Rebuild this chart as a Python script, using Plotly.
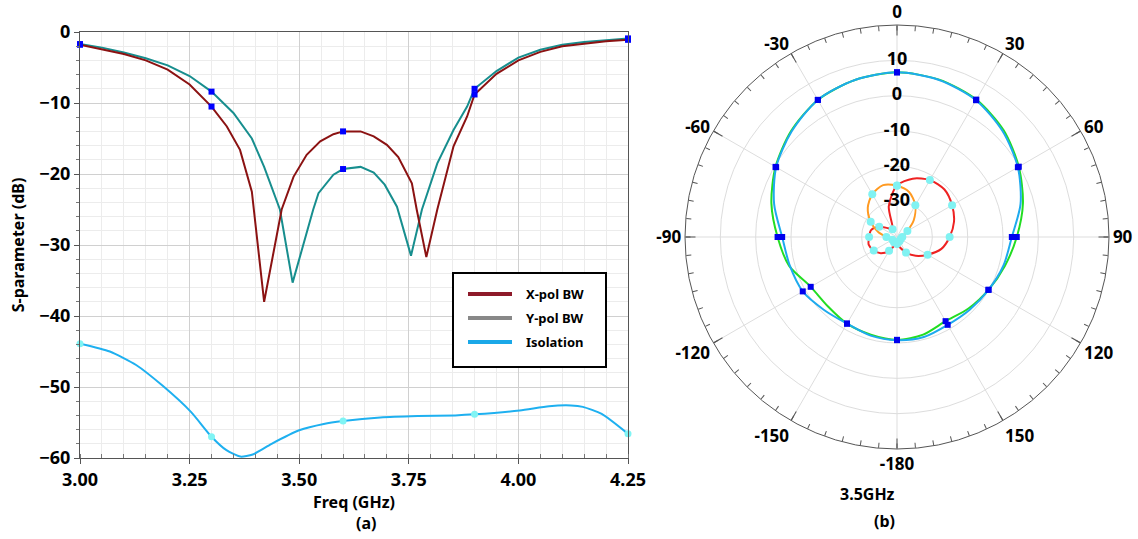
import plotly.graph_objects as go

FONT = "Noto Sans"

# ---------------- (a) S-parameters ----------------
freq_xpol = [3.00, 3.05, 3.10, 3.15, 3.20, 3.25, 3.30, 3.335, 3.365, 3.392, 3.42, 3.46, 3.487,
             3.517, 3.548, 3.578, 3.60, 3.64, 3.67, 3.70, 3.726, 3.757, 3.768, 3.79, 3.815,
             3.852, 3.883, 3.90, 3.95, 4.00, 4.05, 4.10, 4.15, 4.20, 4.25]
s_xpol = [-1.8, -2.4, -3.1, -4.0, -5.3, -7.4, -10.5, -13.3, -16.6, -22.5, -38.0, -25.0, -20.4,
          -17.3, -15.4, -14.4, -14.0, -14.0, -14.7, -15.9, -17.6, -21.3, -25.0, -31.7, -25.0,
          -16.1, -11.9, -8.8, -5.9, -4.0, -2.8, -2.0, -1.6, -1.3, -1.1]

freq_ypol = [3.00, 3.05, 3.10, 3.15, 3.20, 3.25, 3.30, 3.35, 3.392, 3.42, 3.456, 3.485, 3.532,
             3.544, 3.578, 3.60, 3.64, 3.67, 3.695, 3.723, 3.755, 3.78, 3.815, 3.852, 3.883,
             3.90, 3.95, 4.00, 4.05, 4.10, 4.15, 4.20, 4.25]
s_ypol = [-1.7, -2.2, -2.9, -3.7, -4.7, -6.2, -8.4, -11.4, -15.0, -19.0, -25.0, -35.3, -25.0,
          -22.7, -20.1, -19.3, -19.0, -19.8, -21.5, -24.6, -31.5, -25.0, -18.5, -13.8, -10.5,
          -8.0, -5.5, -3.6, -2.5, -1.8, -1.4, -1.1, -0.9]

freq_iso = [3.00, 3.068, 3.128, 3.188, 3.253, 3.30, 3.334, 3.366, 3.394, 3.437, 3.50, 3.556,
            3.60, 3.685, 3.77, 3.856, 3.90, 4.003, 4.07, 4.12, 4.147, 4.19, 4.25]
s_iso = [-43.9, -45.0, -46.9, -49.8, -53.5, -57.0, -58.9, -59.8, -59.5, -58.0, -56.1, -55.2,
         -54.8, -54.3, -54.1, -54.0, -53.85, -53.3, -52.7, -52.6, -52.8, -53.8, -56.6]

marker_freqs = [3.00, 3.30, 3.60, 3.90, 4.25]
x_ticks = [3.00, 3.25, 3.50, 3.75, 4.00, 4.25]
y_ticks = [0, -10, -20, -30, -40, -50, -60]

legend_names = ["X-pol BW", "Y-pol BW", "Isolation"]
legend_colors = ["#8E1A2A", "#888888", "#1AA8E8"]

# ---------------- (b) radiation pattern at 3.5 GHz ----------------
theta_deg = [-180, -165, -150, -135, -120, -105, -90, -75, -60, -45, -30, -15, 0,
             15, 30, 45, 60, 75, 90, 105, 120, 135, 150, 165, 180]
gain_blue = [-10.8, -11.1, -11.7, -10.8, -9.2, -8.6, -7.5, -4.0, -0.5, 2.2, 4.8, 6.0, 6.6,
             6.0, 4.7, 2.3, -0.5, -3.8, -7.5, -8.8, -10.1, -10.9, -11.3, -10.7, -10.8]
gain_green = [-10.9, -11.4, -11.7, -12.3, -11.8, -8.4, -6.2, -3.2, -0.3, 2.4, 4.8, 6.0, 6.6,
              6.1, 4.9, 2.7, -0.2, -3.1, -6.1, -8.4, -10.1, -11.4, -12.5, -11.4, -10.9]
xpol_red = [-38.0, -37.5, -35.5, -33.5, -32.4, -31.7, -32.1, -32.4, -34.2, -36.5, -37.5, -31.0, -25.4,
            -22.9, -21.4, -21.0, -22.0, -23.3, -25.1, -27.0, -30.0, -32.5, -34.9, -37.0, -38.0]
xpol_orange = [-38.5, -38.5, -38.3, -38.5, -38.5, -38.0, -37.0, -34.5, -31.4, -28.3, -26.0, -24.8, -25.5,
               -26.8, -29.6, -33.3, -36.6, -38.0, -38.5, -38.8, -38.8, -38.8, -38.6, -38.5, -38.5]
marker_theta = [-150, -120, -90, -60, -30, 0, 30, 60, 90, 120, 150, 180]

angular_tickvals = [0, 30, 60, 90, 120, 150, 180, 210, 240, 270, 300, 330]
angular_ticktext = ["0", "30", "60", "90", "120", "150", "-180", "-150", "-120", "-90", "-60", "-30"]
angular_minor = list(range(0, 360, 5))
radial_tickvals = [-30, -20, -10, 0, 10]
radial_range = [-40, 20]


def pick(xs, ys, keys):
    return [ys[xs.index(k)] for k in keys]


fig = go.Figure()

# S-parameter curves
fig.add_trace(go.Scatter(x=freq_iso, y=s_iso, mode="lines",
                         line=dict(color="#1EB0F0", width=2, shape="spline", smoothing=0.6), showlegend=False))
fig.add_trace(go.Scatter(x=freq_ypol, y=s_ypol, mode="lines", line=dict(color="#178E8E", width=2),
                         showlegend=False))
fig.add_trace(go.Scatter(x=freq_xpol, y=s_xpol, mode="lines", line=dict(color="#8B1212", width=2),
                         showlegend=False))
fig.add_trace(go.Scatter(x=marker_freqs, y=pick(freq_iso, s_iso, marker_freqs), mode="markers",
                         marker=dict(color="#80F4F4", size=7, symbol="circle"), cliponaxis=False, showlegend=False))
fig.add_trace(go.Scatter(x=marker_freqs, y=pick(freq_ypol, s_ypol, marker_freqs), mode="markers",
                         marker=dict(color="#0000FF", size=6, symbol="square"), cliponaxis=False, showlegend=False))
fig.add_trace(go.Scatter(x=marker_freqs, y=pick(freq_xpol, s_xpol, marker_freqs), mode="markers",
                         marker=dict(color="#0000FF", size=6, symbol="square"), cliponaxis=False, showlegend=False))

# Polar pattern
for vals, col in [(gain_green, "#22DD22"), (gain_blue, "#1EAAEE"), (xpol_red, "#EE2222"), (xpol_orange, "#FF9A22")]:
    fig.add_trace(go.Scatterpolar(r=vals, theta=theta_deg, mode="lines", subplot="polar",
                                  line=dict(color=col, width=2, shape="spline", smoothing=0.8), showlegend=False))
for vals, col, sym, sz in [(gain_green, "#0000EE", "square", 6), (gain_blue, "#0000EE", "square", 6),
                           (xpol_red, "#80F2F2", "circle", 8), (xpol_orange, "#80F2F2", "circle", 8)]:
    fig.add_trace(go.Scatterpolar(r=pick(theta_deg, vals, marker_theta), theta=marker_theta, mode="markers",
                                  subplot="polar", marker=dict(color=col, size=sz, symbol=sym), showlegend=False))

# radial labels along the 0 deg line
fig.add_trace(go.Scatterpolar(r=radial_tickvals, theta=[0] * len(radial_tickvals), mode="text",
                              text=[str(v) for v in radial_tickvals], subplot="polar2",
                              textposition="middle center",
                              textfont=dict(family=FONT, size=18, color="black", weight="bold"),
                              showlegend=False))

W, H = 1138, 539
tickfont = dict(family=FONT, size=18, color="black", weight="bold")
titlefont = dict(family=FONT, size=16, color="black", weight="bold")
pdom = dict(x=[685 / W, 1109 / W], y=[1 - 449 / H, 1 - 25 / H])

# manual legend (box, line samples, labels) in paper coordinates
lg_left, lg_right, lg_top, lg_bottom = 453, 606, 273, 367
lg_rows = [294, 318, 342]
shapes = [dict(type="rect", xref="paper", yref="paper",
               x0=lg_left / W, x1=lg_right / W, y0=1 - lg_bottom / H, y1=1 - lg_top / H,
               line=dict(color="black", width=2), fillcolor="white", layer="above")]
annotations = []
for name, col, yy in zip(legend_names, legend_colors, lg_rows):
    shapes.append(dict(type="line", xref="paper", yref="paper", x0=468 / W, x1=512 / W,
                       y0=1 - yy / H, y1=1 - yy / H, line=dict(color=col, width=4), layer="above"))
    annotations.append(dict(text=name, x=524 / W, y=1 - yy / H, xref="paper", yref="paper",
                            xanchor="left", yanchor="middle", showarrow=False,
                            font=dict(family=FONT, size=13, color="black", weight="bold")))

annotations += [
    dict(text="(a)", x=354 / W, y=1 - 523 / H, xref="paper", yref="paper", showarrow=False,
         yanchor="middle", font=titlefont),
    dict(text="3.5GHz", x=897 / W, y=1 - 494 / H, xref="paper", yref="paper", showarrow=False,
         yanchor="middle", font=titlefont),
    dict(text="(b)", x=897 / W, y=1 - 521 / H, xref="paper", yref="paper", showarrow=False,
         yanchor="middle", font=titlefont),
]

fig.update_layout(
    width=W, height=H, template="none",
    margin=dict(l=0, r=0, t=0, b=0),
    paper_bgcolor="white", plot_bgcolor="white",
    font=dict(family=FONT, color="black"),
    showlegend=False,
    xaxis=dict(domain=[80 / W, 628 / W], range=[3.0, 4.25], tickvals=x_ticks, tickformat=".2f",
               tickfont=tickfont, ticks="outside", ticklen=5, tickcolor="#555",
               showline=True, linecolor="#555", linewidth=1, mirror=True,
               showgrid=True, gridcolor="#d0d0d0", gridwidth=1, zeroline=False, automargin=False,
               minor=dict(dtick=0.05, tick0=3.0, ticks="inside", ticklen=4, tickcolor="#777",
                          showgrid=True, gridcolor="#ececec"),
               title=dict(text="Freq (GHz)", font=titlefont, standoff=0)),
    yaxis=dict(domain=[1 - 458 / H, 1 - 32 / H], range=[-60, 0], tickvals=y_ticks,
               tickfont=tickfont, ticks="outside", ticklen=5, tickcolor="#555",
               showline=True, linecolor="#555", linewidth=1, mirror=True,
               showgrid=True, gridcolor="#d0d0d0", gridwidth=1, zeroline=False, automargin=False,
               minor=dict(dtick=2, ticks="outside", ticklen=3, tickcolor="#777",
                          showgrid=True, gridcolor="#ececec"),
               title=dict(text="S-parameter (dB)", font=titlefont, standoff=10)),
    polar=dict(domain=pdom, bgcolor="white",
               angularaxis=dict(rotation=90, direction="clockwise", tickmode="array",
                                tickvals=angular_tickvals, ticktext=angular_ticktext,
                                ticks="inside", ticklen=10, tickcolor="#555",
                                showline=True, linecolor="#555", linewidth=1,
                                showgrid=True, gridcolor="#dddddd",
                                tickfont=dict(family=FONT, size=17, color="black", weight="bold")),
               radialaxis=dict(range=radial_range, tickvals=radial_tickvals, showticklabels=False,
                               ticks="", showline=False, showgrid=True, gridcolor="#dddddd")),
    polar2=dict(domain=pdom, bgcolor="rgba(0,0,0,0)",
                angularaxis=dict(rotation=90, direction="clockwise", tickmode="array",
                                 tickvals=angular_minor, ticks="inside", ticklen=5, tickcolor="#555",
                                 showticklabels=False, showgrid=False, showline=False),
                radialaxis=dict(range=radial_range, visible=False)),
    shapes=shapes,
    annotations=annotations,
)

fig.write_html("out.html", config={"displayModeBar": False},
               post_script="document.body.style.margin='0px';")
